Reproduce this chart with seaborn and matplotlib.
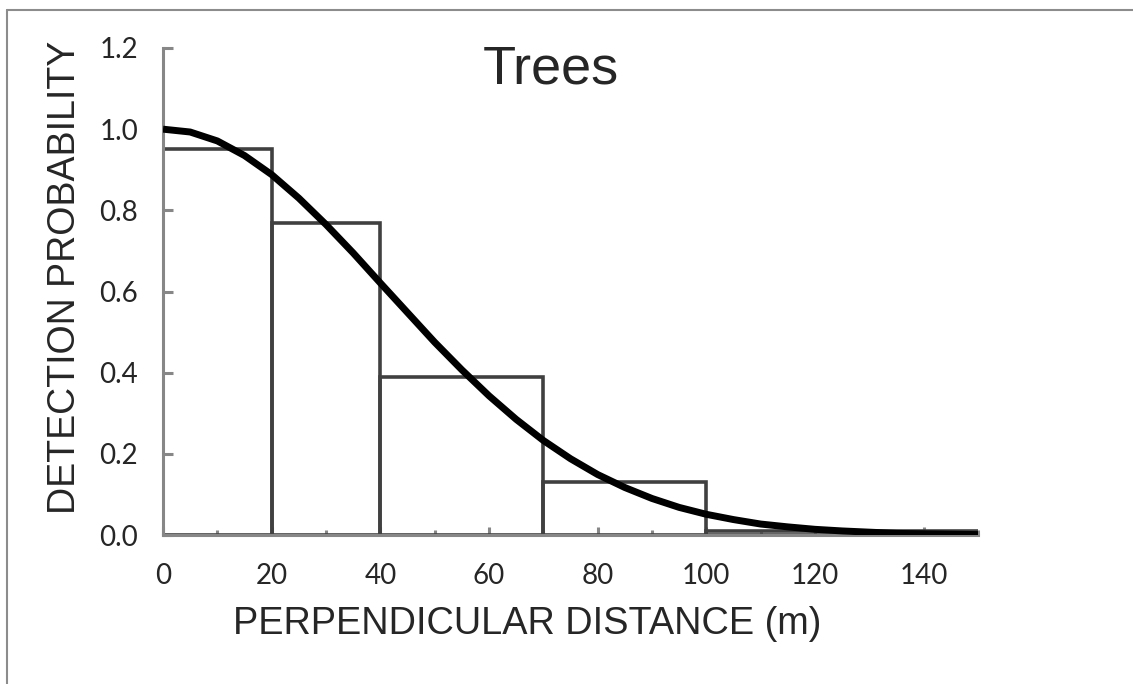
import numpy as np
import pandas as pd
import matplotlib
matplotlib.use("Agg")
import matplotlib.pyplot as plt
from matplotlib.lines import Line2D
from matplotlib.ticker import MultipleLocator
import seaborn as sns

# Distance bins (m) and observed detection proportions per bin
bin_edges = [0, 20, 40, 70, 100, 150]
bin_heights = [0.95, 0.77, 0.39, 0.13, 0.01]

# Fitted detection function, sampled every 5 m
curve_x = [0, 5, 10, 15, 20, 25, 30, 35, 40, 45, 50, 55, 60, 65, 70, 75,
           80, 85, 90, 95, 100, 105, 110, 115, 120, 125, 130, 135, 140, 145, 150]
curve_y = [1.000, 0.993, 0.971, 0.935, 0.888, 0.830, 0.765, 0.695, 0.621,
           0.548, 0.475, 0.407, 0.343, 0.285, 0.233, 0.188, 0.149, 0.117,
           0.090, 0.068, 0.051, 0.038, 0.027, 0.020, 0.014, 0.010, 0.007,
           0.004, 0.003, 0.002, 0.001]

x_ticks = [0, 20, 40, 60, 80, 100, 120, 140]
y_ticks = [0.0, 0.2, 0.4, 0.6, 0.8, 1.0, 1.2]

title_text = "Trees"
x_label = "PERPENDICULAR DISTANCE (m)"
y_label = "DETECTION PROBABILITY"

sns.set_style("white")
plt.rcParams["font.family"] = ["Liberation Sans", "DejaVu Sans"]

axis_grey = "#878787"
bar_grey = "#404040"

fig = plt.figure(figsize=(11.33, 6.84), dpi=100)
ax = fig.add_axes([163 / 1133, 1 - 535 / 684, (978 - 163) / 1133, (535 - 48) / 684])

bins_df = pd.DataFrame({
    "centre": [(a + b) / 2 for a, b in zip(bin_edges[:-1], bin_edges[1:])],
    "height": bin_heights,
})
sns.histplot(data=bins_df, x="centre", weights="height", bins=bin_edges,
             fill=False, element="bars", color=bar_grey, linewidth=2.6,
             ax=ax, zorder=2)

curve_df = pd.DataFrame({"x": curve_x, "y": curve_y})
sns.lineplot(data=curve_df, x="x", y="y", color="black", linewidth=5.0,
             ax=ax, zorder=6, solid_capstyle="butt")

ax.set_xlim(0, 150)
ax.set_ylim(0, 1.2)
ax.set_xticks(x_ticks)
ax.set_xticklabels([str(v) for v in x_ticks])
ax.set_yticks(y_ticks)
ax.set_yticklabels([f"{v:.1f}" for v in y_ticks])
ax.xaxis.set_minor_locator(MultipleLocator(10))

for side in ("top", "right"):
    ax.spines[side].set_visible(False)
for side in ("left", "bottom"):
    ax.spines[side].set_color(axis_grey)
    ax.spines[side].set_linewidth(2.2)
    ax.spines[side].set_zorder(4)

tick_font = ["Lato", "DejaVu Sans"]
ax.tick_params(axis="x", which="both", bottom=True, top=False)
ax.tick_params(axis="y", which="both", left=True, right=False)
ax.tick_params(axis="x", which="major", direction="in", length=6, width=2.2,
               color=axis_grey, pad=20, labelsize=20)
ax.tick_params(axis="x", which="minor", direction="in", length=3.5, width=2.2,
               color=axis_grey)
ax.tick_params(axis="y", which="major", direction="in", length=7.5, width=2.2,
               color=axis_grey, pad=18, labelsize=20)
for lab in ax.get_xticklabels() + ax.get_yticklabels():
    lab.set_fontfamily(tick_font)

ax.set_xlabel(x_label, fontsize=27.3)
ax.xaxis.label.set_va("center")
ax.xaxis.set_label_coords(0.447, -0.183)
ax.set_ylabel(y_label, fontsize=27)
ax.yaxis.label.set_va("center")
ax.yaxis.set_label_coords(-0.120, 0.528)

ax.text(0.476, 0.928, title_text, transform=ax.transAxes, ha="center",
        va="baseline", fontsize=39)

# Thin frame along the top and left edges of the figure
fig.add_artist(Line2D([7 / 1133, 7 / 1133], [0, 1 - 10 / 684],
                      transform=fig.transFigure, color="#8c8c8c", linewidth=1.5))
fig.add_artist(Line2D([7 / 1133, 1], [1 - 10 / 684, 1 - 10 / 684],
                      transform=fig.transFigure, color="#8c8c8c", linewidth=1.5))

fig.savefig("out.png", dpi=100)
